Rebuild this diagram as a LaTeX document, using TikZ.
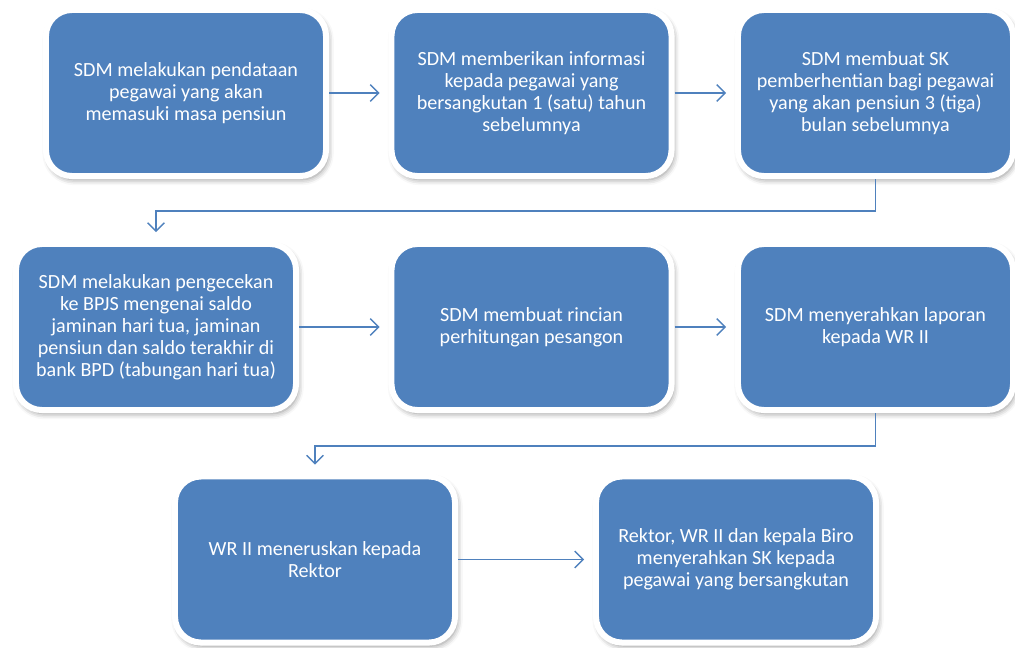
\documentclass[tikz,border=0pt]{standalone}
\usepackage{fontspec}
\setmainfont{Carlito}
\usetikzlibrary{arrows.meta,shadows.blur}
\definecolor{boxblue}{HTML}{4F81BD}

\begin{document}
\begin{tikzpicture}[x=0.025cm,y=-0.025cm,
  main node/.style={rectangle,rounded corners=0.65cm,fill=boxblue,draw=white,
    line width=0.15cm,minimum width=7cm,minimum height=4.15cm,
    text=white,align=center,font=\fontsize{14.3}{15.6}\selectfont,
    blur shadow={shadow xshift=1.5pt,shadow yshift=-2.5pt,shadow opacity=45,shadow blur radius=4pt}},
  flow/.style={draw=boxblue,line width=1pt,-{Straight Barb[length=6pt,width=12pt,line width=1pt]},shorten >=0.22cm}]

  \useasboundingbox (0,0) rectangle (1015,647);

  \node[main node] (1) at (186,93) {SDM melakukan pendataan\\pegawai yang akan\\memasuki masa pensiun};
  \node[main node] (2) at (531.5,93) {SDM memberikan informasi\\kepada pegawai yang\\bersangkutan 1 (satu) tahun\\sebelumnya};
  \node[main node,minimum width=6.875cm] (3) at (875.5,93) {SDM membuat SK\\pemberhentian bagi pegawai\\yang akan pensiun 3 (tiga)\\bulan sebelumnya};

  \node[main node] (4) at (156,327) {SDM melakukan pengecekan\\ke BPJS mengenai saldo\\jaminan hari tua, jaminan\\pensiun dan saldo terakhir di\\bank BPD (tabungan hari tua)};
  \node[main node] (5) at (531.5,327) {SDM membuat rincian\\perhitungan pesangon};
  \node[main node,minimum width=6.875cm] (6) at (875.5,327) {SDM menyerahkan laporan\\kepada WR II};

  \node[main node] (7) at (315,559.5) {WR II meneruskan kepada\\Rektor};
  \node[main node] (8) at (736,559.5) {Rektor, WR II dan kepala Biro\\menyerahkan SK kepada\\pegawai yang bersangkutan};

  \draw[flow] (1) -- (2);
  \draw[flow] (2) -- (3);
  \draw[flow] (3.south) -- ++(0,32) -| (4.north);
  \draw[flow] (4) -- (5);
  \draw[flow] (5) -- (6);
  \draw[flow] (6.south) -- ++(0,33) -| (7.north);
  \draw[flow] (7) -- (8);

\end{tikzpicture}
\end{document}
